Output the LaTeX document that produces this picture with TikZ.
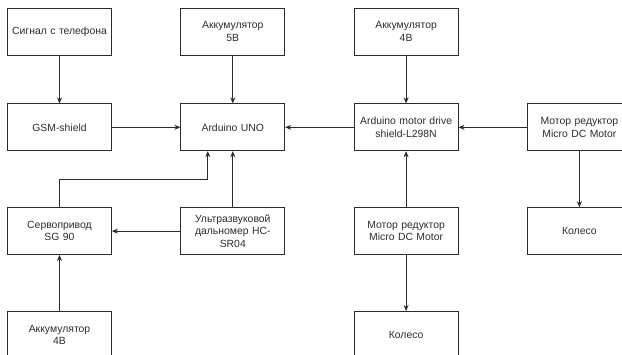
\documentclass[tikz,border=0pt]{standalone}
\usepackage{fontspec}
\setmainfont{Liberation Sans}
\usetikzlibrary{arrows.meta,positioning}
\definecolor{inkgray}{HTML}{2B2B2B}

\begin{document}
\begin{tikzpicture}[x=1pt,y=1pt,font=\fontsize{10.4}{12.5}\selectfont,
   block/.style={draw=inkgray,line width=0.8pt,inner sep=2pt,text width=100pt,
                 minimum height=47pt,align=center,text=inkgray},
   link/.style={draw=inkgray,line width=0.8pt,-{Stealth[length=6pt,width=5pt]}}]
  \useasboundingbox (0,0) rectangle (622,-354);
  % top row
  \node[block] (sig) at (59.5,-31.5) {Сигнал с телефона};
  \node[block,right=68.5pt of sig] (akkfive) {Аккумулятор\\5В};
  \node[block,right=68.5pt of akkfive] (akkfour) {Аккумулятор\\4В};
  % second row
  \node[block,below=48pt of sig] (gsm) {GSM-shield};
  \node[block,below=48pt of akkfive] (uno) {Arduino UNO};
  \node[block,below=48pt of akkfour] (drv) {Arduino motor drive\\shield-L298N};
  \node[block,right=68.5pt of drv] (motr) {Мотор редуктор\\Micro DC Motor};
  % third row
  \node[block,below=56pt of gsm] (servo) {Сервопривод\\SG 90};
  \node[block,below=56pt of uno] (sonar) {Ультразвуковой\\дальномер HC-\\SR04};
  \node[block,below=56pt of drv] (motm) {Мотор редуктор\\Micro DC Motor};
  \node[block,below=56pt of motr] (wheelr) {Колесо};
  % bottom row
  \node[block,below=56pt of servo] (akkbot) {Аккумулятор\\4В};
  \node[block,below=56pt of motm] (wheelm) {Колесо};

  \draw[link] (sig) -- (gsm);
  \draw[link] (akkfive) -- (uno);
  \draw[link] (akkfour) -- (drv);
  \draw[link] (gsm) -- (uno);
  \draw[link] (drv) -- (uno);
  \draw[link] (motr) -- (drv);
  \draw[link] (motr) -- (wheelr);
  \draw[link] (motm) -- (drv);
  \draw[link] (motm) -- (wheelm);
  \draw[link] (sonar) -- (uno);
  \draw[link] (sonar) -- (servo);
  \draw[link] (akkbot) -- (servo);
  \draw[link] (servo.north) -- ++(0,28) -| ([xshift=-25pt]uno.south);
\end{tikzpicture}
\end{document}
